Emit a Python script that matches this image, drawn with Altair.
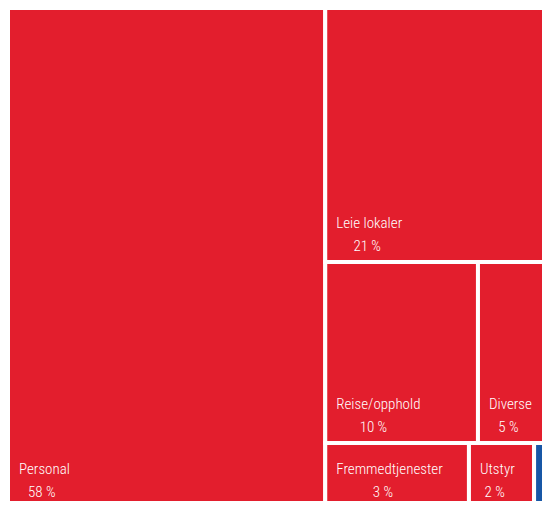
import altair as alt
import pandas as pd

# ---- data ----
categories = ["Personal", "Leie lokaler", "Reise/opphold", "Diverse",
              "Fremmedtjenester", "Utstyr", "Annet"]
shares = [58.3, 21.19, 10.17, 4.94, 3.42, 1.55, 0.43]
groups = ["Kostnad", "Kostnad", "Kostnad", "Kostnad", "Kostnad", "Kostnad", "Annet"]
strips = [0, 1, 2, 2, 3, 3, 3]   # treemap strips: 0 = left column, 1..3 = rows on the right

# ---- treemap layout (computed from the values) ----
TOTAL_W, TOTAL_H = 552.3, 507.8      # full treemap (only the top-left part is shown)
SHOW_W, SHOW_H = 542, 501            # part of the treemap that is shown
VIEW_W, VIEW_H = 534, 493            # plot size on the page

total = sum(shares)
rows = []
col_val = sum(v for v, s in zip(shares, strips) if s == 0)
col_w = TOTAL_W * col_val / total
# left column
y = 0.0
for c, v, g, s in zip(categories, shares, groups, strips):
    if s == 0:
        h = TOTAL_H * v / col_val
        rows.append(dict(cat=c, val=v, grp=g, x0=0.0, x1=col_w, y0=y, y1=y + h))
        y += h
# right side: horizontal strips
rest_val = total - col_val
y = 0.0
for s_id in sorted(set(strips) - {0}):
    members = [(c, v, g) for c, v, g, s in zip(categories, shares, groups, strips) if s == s_id]
    sv = sum(m[1] for m in members)
    h = TOTAL_H * sv / rest_val
    x = col_w
    for c, v, g in members:
        w = (TOTAL_W - col_w) * v / sv
        rows.append(dict(cat=c, val=v, grp=g, x0=x, x1=x + w, y0=y, y1=y + h))
        x += w
    y += h

def est_width(t):
    narrow = set("iljtfr/ ")
    wide = set("mw")
    w = 0.0
    for ch in t:
        if ch in narrow:
            w += 3.4
        elif ch in wide:
            w += 9.5
        elif ch == "%":
            w += 12.0
        elif ch.isupper():
            w += 6.8
        else:
            w += 6.5
    return w

df = pd.DataFrame(rows)
df["pct"] = df["val"].round().astype(int).astype(str) + " %"
df["xc"] = df["x0"] + df["cat"].map(lambda t: est_width(t) / 2)

xs = alt.Scale(domain=[0, SHOW_W])
ys = alt.Scale(domain=[0, SHOW_H], reverse=True)
FONT = '"Roboto Condensed", "Liberation Sans Narrow", "DejaVu Sans Condensed", sans-serif'

base = alt.Chart(df)

tiles = base.mark_rect(stroke="white", strokeWidth=4, clip=True).encode(
    x=alt.X("x0:Q", scale=xs, axis=None),
    x2="x1:Q",
    y=alt.Y("y0:Q", scale=ys, axis=None),
    y2="y1:Q",
    color=alt.Color("grp:N", scale=alt.Scale(domain=["Kostnad", "Annet"],
                                             range=["#e31e2d", "#1857a6"]), legend=None),
)

labels = base.transform_filter(f"datum.x0 + 40 < {SHOW_W}")

name_txt = labels.mark_text(align="left", baseline="middle", dx=11, dy=-39,
                            font=FONT, fontSize=15, fontWeight=300, color="white").encode(
    x=alt.X("x0:Q", scale=xs),
    y=alt.Y("y1:Q", scale=ys),
    text="cat:N",
)

pct_txt = labels.mark_text(align="center", baseline="middle", dx=11, dy=-16,
                           font=FONT, fontSize=15, fontWeight=300, color="white").encode(
    x=alt.X("xc:Q", scale=xs),
    y=alt.Y("y1:Q", scale=ys),
    text="pct:N",
)

chart = (tiles + name_txt + pct_txt).properties(
    width=VIEW_W, height=VIEW_H, padding=0, background="white"
).configure_view(stroke=None)

chart.save("out.html", embed_options={"renderer": "svg", "actions": False})
